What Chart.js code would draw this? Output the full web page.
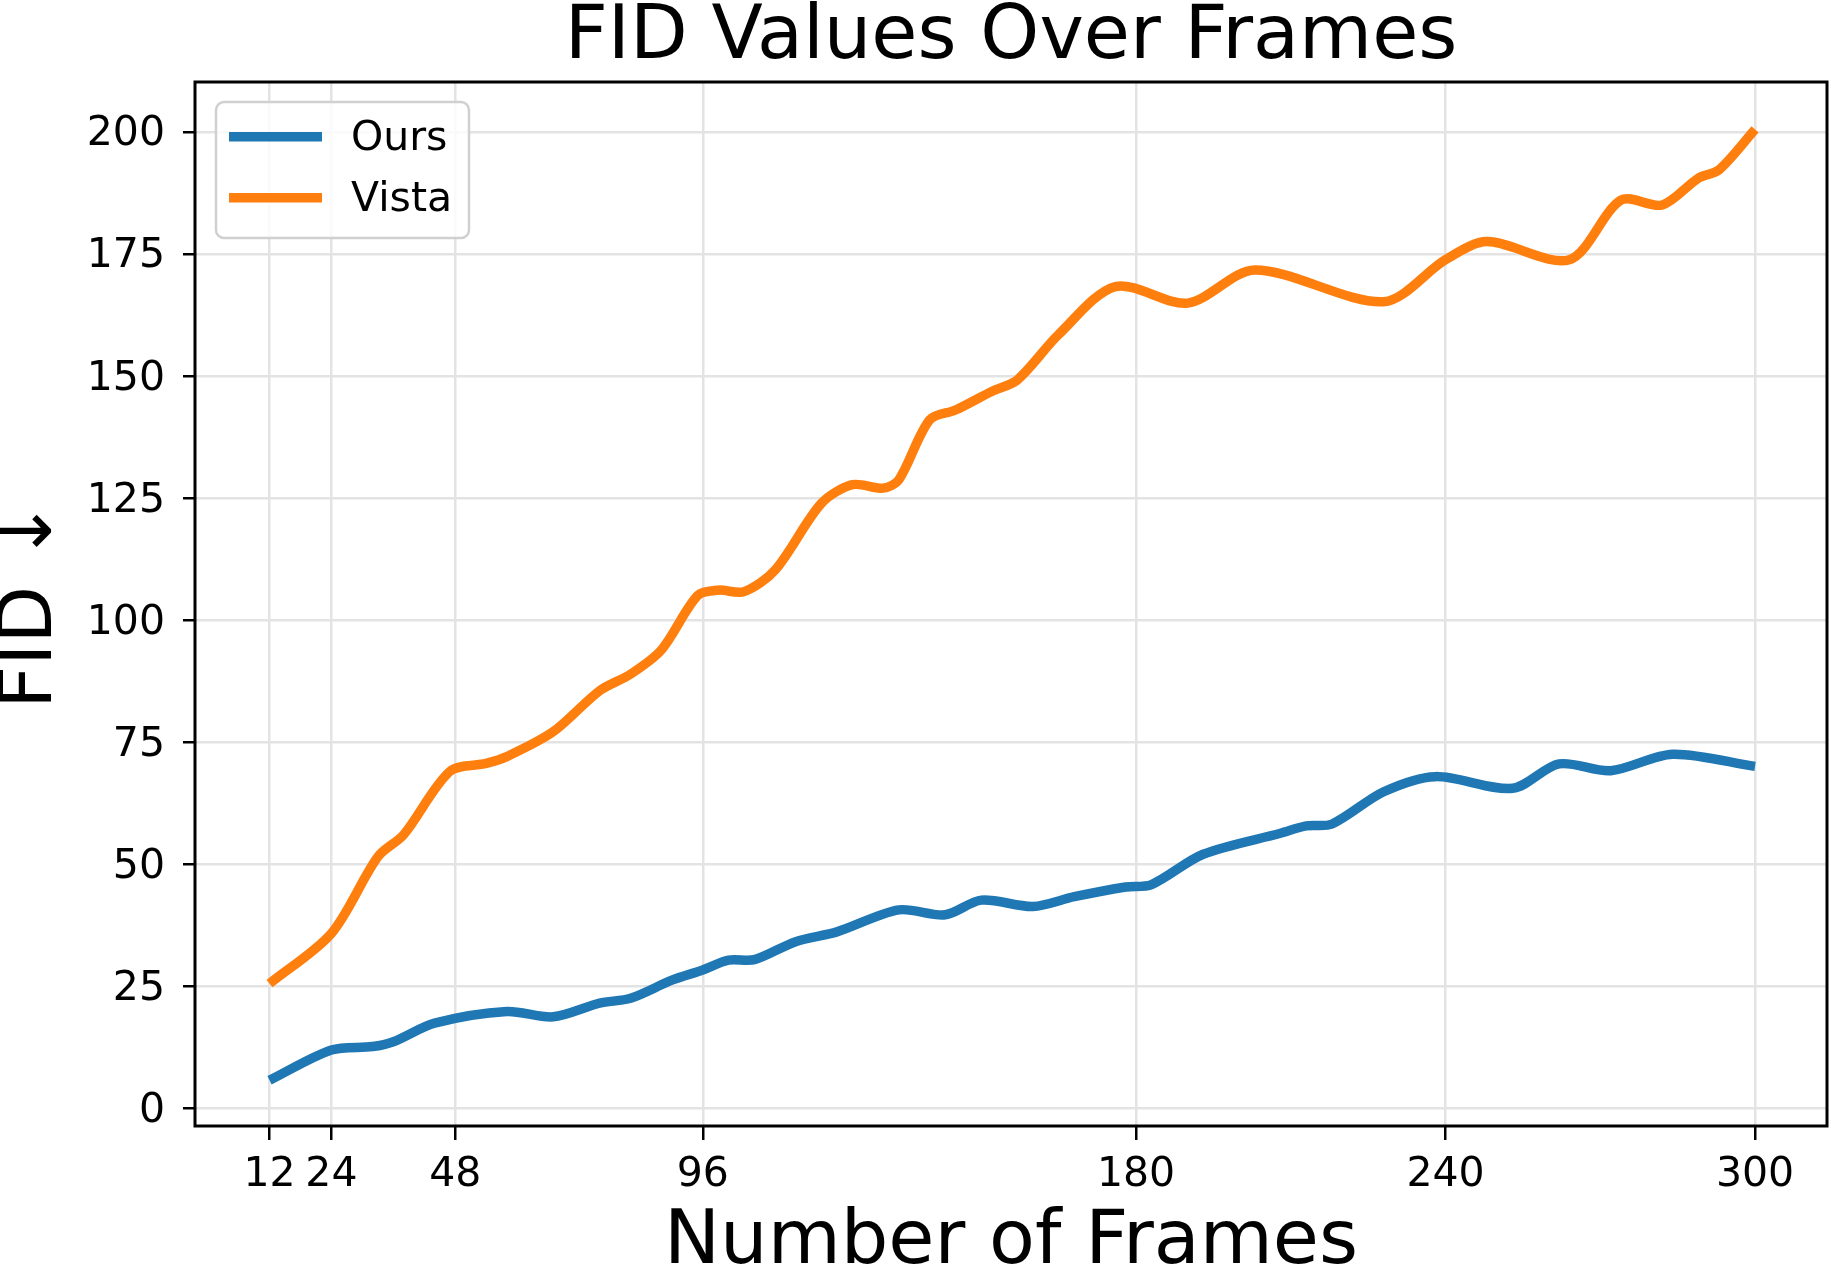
<!DOCTYPE html>
<html>
<head>
<meta charset="utf-8">
<script src="https://cdn.jsdelivr.net/npm/chart.js@4.4.1/dist/chart.umd.min.js"></script>
<style>
  html, body { margin: 0; padding: 0; background: #fff; }
  #wrap { width: 1831px; height: 1271px; }
</style>
</head>
<body>
<div id="wrap"><canvas id="fid-chart" width="1831" height="1271"></canvas></div>
<script>
const chartTitle = "FID Values Over Frames";
const xAxisLabel = "Number of Frames";
const yAxisLabel = "FID ↓";

const xTickValues = [12, 24, 48, 96, 180, 240, 300];
const yTickValues = [0, 25, 50, 75, 100, 125, 150, 175, 200];

// values
const oursFrames = [12, 24, 32, 36, 44, 58, 67, 76, 82, 90, 96, 101, 106, 114, 122, 134, 143, 150, 160, 168, 178, 183, 193, 208, 213, 218, 228, 238, 253, 262, 272, 284, 300];
const oursFid = [5.7, 11.9, 12.6, 13.6, 17.4, 19.8, 18.7, 21.5, 22.5, 26.2, 28.3, 30.3, 30.4, 34.1, 36.1, 40.6, 39.6, 42.6, 41.3, 43.3, 45.3, 45.8, 52.0, 56.3, 57.8, 58.2, 64.8, 67.9, 65.5, 70.5, 69.1, 72.5, 70.0];

const vistaFrames = [12, 24, 33, 38, 47, 54, 58, 67, 76, 82, 88, 95, 99, 104, 110, 119, 125, 131, 134, 140, 145, 152, 157, 165, 176, 190, 203, 228, 240, 248, 264, 274, 282, 289, 293, 300];
const vistaFid = [25.5, 35.8, 51.5, 56.0, 69.0, 70.6, 72.0, 77.1, 85.5, 88.9, 93.9, 105.0, 106.1, 105.8, 110.2, 123.9, 127.7, 127.0, 128.7, 141.0, 143.0, 146.8, 149.2, 158.5, 168.3, 164.9, 171.7, 165.2, 173.8, 177.5, 173.8, 186.0, 185.0, 190.5, 192.2, 200.5];

const fontFamily = "'DejaVu Sans', sans-serif";

const toPoints = (xs, ys) => xs.map((x, i) => ({ x: x, y: ys[i] }));

// spines, legend box and title drawn on top of the plot
const framePlugin = {
  id: "frame",
  afterDatasetsDraw(chart) {
    const { ctx, chartArea } = chart;
    const { left, right, top, bottom } = chartArea;

    ctx.save();
    ctx.strokeStyle = "#000";
    ctx.lineWidth = 3;
    ctx.strokeRect(left, top, right - left, bottom - top);

    // legend
    const bx = 216, by = 102, bw = 253, bh = 136, r = 8;
    ctx.beginPath();
    ctx.moveTo(bx + r, by);
    ctx.arcTo(bx + bw, by, bx + bw, by + bh, r);
    ctx.arcTo(bx + bw, by + bh, bx, by + bh, r);
    ctx.arcTo(bx, by + bh, bx, by, r);
    ctx.arcTo(bx, by, bx + bw, by, r);
    ctx.closePath();
    ctx.fillStyle = "rgba(255,255,255,0.8)";
    ctx.fill();
    ctx.strokeStyle = "#d0d0d0";
    ctx.lineWidth = 2.5;
    ctx.stroke();

    chart.data.datasets.forEach((ds, i) => {
      const rowY = 136.7 + i * 61;
      ctx.beginPath();
      ctx.moveTo(229, rowY);
      ctx.lineTo(322, rowY);
      ctx.strokeStyle = ds.borderColor;
      ctx.lineWidth = 9.5;
      ctx.lineCap = "butt";
      ctx.stroke();

      ctx.fillStyle = "#000";
      ctx.font = "41px " + fontFamily;
      ctx.textAlign = "left";
      ctx.textBaseline = "middle";
      ctx.fillText(ds.label, 351, rowY + 3);
    });

    // title
    ctx.fillStyle = "#000";
    ctx.font = "75px " + fontFamily;
    ctx.textAlign = "center";
    ctx.textBaseline = "alphabetic";
    ctx.fillText(chartTitle, (left + right) / 2, 58);
    ctx.restore();
  },
};

const ctx = document.getElementById("fid-chart").getContext("2d");

const chart = new Chart(ctx, {
  type: "line",
  data: {
    datasets: [
      {
        label: "Ours",
        data: toPoints(oursFrames, oursFid),
        borderColor: "#1f77b4",
        borderWidth: 9.5,
        pointRadius: 0,
        tension: 0.3,
        fill: false,
      },
      {
        label: "Vista",
        data: toPoints(vistaFrames, vistaFid),
        borderColor: "#ff7f0e",
        borderWidth: 9.5,
        pointRadius: 0,
        tension: 0.3,
        fill: false,
      },
    ],
  },
  options: {
    responsive: false,
    animation: false,
    devicePixelRatio: 1,
    layout: { padding: { top: 82, right: 4, bottom: 0, left: 0 } },
    plugins: {
      legend: { display: false },
      title: { display: false },
      tooltip: { enabled: false },
    },
    scales: {
      x: {
        type: "linear",
        min: -2.45,
        max: 313.95,
        afterBuildTicks: (scale) => {
          scale.ticks = xTickValues.map((v) => ({ value: v }));
        },
        afterFit: (scale) => {
          scale.height = 145;
        },
        grid: {
          color: "#e3e3e3",
          lineWidth: 2.5,
          drawTicks: true,
          tickLength: 14,
          tickColor: "#000",
          tickWidth: 2.5,
        },
        border: { display: false },
        ticks: {
          font: { family: fontFamily, size: 41 },
          color: "#000",
          padding: 11,
          maxRotation: 0,
          autoSkip: false,
          callback: (v) => String(v),
        },
        title: {
          display: true,
          text: xAxisLabel,
          color: "#000",
          font: { family: fontFamily, size: 75, lineHeight: 0.5 },
          padding: { top: 0, bottom: 9 },
        },
      },
      y: {
        type: "linear",
        min: -3.67,
        max: 210.2,
        afterBuildTicks: (scale) => {
          scale.ticks = yTickValues.map((v) => ({ value: v }));
        },
        afterFit: (scale) => {
          scale.width = 195;
        },
        grid: {
          color: "#e3e3e3",
          lineWidth: 2.5,
          drawTicks: true,
          tickLength: 12,
          tickColor: "#000",
          tickWidth: 2.5,
        },
        border: { display: false },
        ticks: {
          font: { family: fontFamily, size: 41 },
          color: "#000",
          padding: 18,
          labelOffset: 3,
          autoSkip: false,
          callback: (v) => String(v),
        },
        title: {
          display: true,
          text: yAxisLabel,
          color: "#000",
          font: { family: fontFamily, size: 75, lineHeight: 0.5 },
          padding: { top: 13, bottom: 0 },
        },
      },
    },
  },
  plugins: [framePlugin],
});
</script>
</body>
</html>
